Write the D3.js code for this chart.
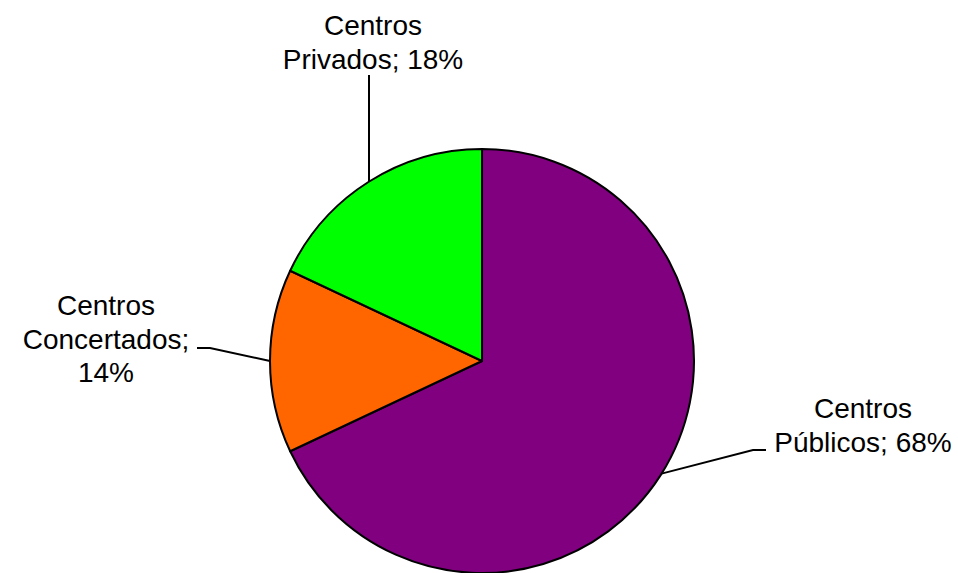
<!DOCTYPE html>
<html><head><meta charset="utf-8">
<script src="https://cdn.jsdelivr.net/npm/d3@7"></script>
<style>html,body{margin:0;padding:0;background:#fff;}svg{display:block;}</style>
</head><body>
<svg id="chart" width="958" height="573"></svg>
<script>
const categories = ["Centros Públicos", "Centros Concertados", "Centros Privados"];
const values = [68, 14, 18];
const colors = ["#800080", "#FF6600", "#00FF00"];
const labelLines = [["Centros", "Públicos; 68%"], ["Centros", "Concertados;", "14%"], ["Centros", "Privados; 18%"]];

const svg = d3.select("#chart");
const cx = 482, cy = 361, r = 212;
const g = svg.append("g").attr("transform", `translate(${cx},${cy})`);

const pie = d3.pie().value(d => d).sort(null);
const arcs = pie(values);
const arc = d3.arc().innerRadius(0).outerRadius(r);

g.selectAll("path").data(arcs).enter().append("path")
  .attr("d", arc)
  .attr("fill", (d, i) => colors[i])
  .attr("stroke", "#000")
  .attr("stroke-width", 2)
  .attr("stroke-linejoin", "round");

// label layout (positions in page coordinates)
const labelPos = [
  {x: 863, y: 418, anchorDeg: 122.1, elbow: [[766, 450], [753, 450]]},
  {x: 106, y: 315, anchorDeg: 270, elbow: [[197, 348], [210, 348]]},
  {x: 373, y: 35, anchorDeg: 327.8, elbow: [[369, 75]]}
];
const lineH = 33.5;

labelPos.forEach((p, i) => {
  const a = p.anchorDeg * Math.PI / 180;
  const ax = cx + r * Math.sin(a), ay = cy - r * Math.cos(a);
  const pts = p.elbow.concat([[ax, ay]]);
  svg.append("path")
    .attr("d", d3.line()(pts))
    .attr("fill", "none")
    .attr("stroke", "#000")
    .attr("stroke-width", 2);
  const t = svg.append("text")
    .attr("text-anchor", "middle")
    .attr("font-family", "Liberation Sans, Arial, sans-serif")
    .attr("font-size", 28)
    .attr("fill", "#000");
  labelLines[i].forEach((ln, j) => {
    t.append("tspan").attr("x", p.x).attr("y", p.y + j * lineH).text(ln);
  });
});
</script>
</body></html>
